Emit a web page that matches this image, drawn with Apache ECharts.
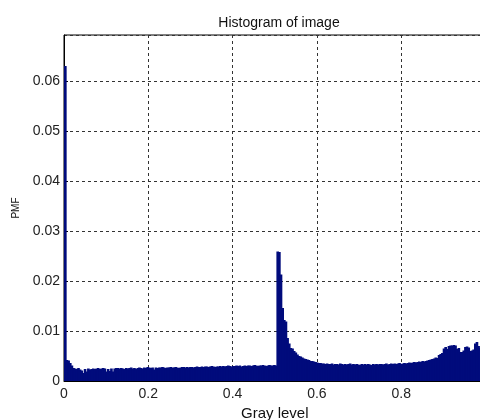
<!DOCTYPE html>
<html>
<head>
<meta charset="utf-8">
<script src="https://cdn.jsdelivr.net/npm/echarts@6/dist/echarts.min.js"></script>
<style>html,body{margin:0;padding:0;background:#fff;}#c{width:480px;height:420px;}</style>
</head>
<body>
<div id="c"></div>
<script>
// Histogram data: 256 bins over [0,1]
var binCount = 256;
var pmf = [
0.0630,0.0042,0.0041,0.0036,0.0031,0.0026,0.0025,0.0024,0.0026,0.0023,0.0021,0.0016,0.0024,0.0019,0.0025,0.0023,
0.0024,0.0025,0.0024,0.0025,0.0026,0.0024,0.0025,0.0026,0.0025,0.0019,0.0024,0.0020,0.0025,0.0019,0.0025,0.0026,
0.0026,0.0025,0.0026,0.0025,0.0024,0.0026,0.0025,0.0026,0.0027,0.0025,0.0026,0.0024,0.0026,0.0027,0.0026,0.0025,
0.0027,0.0026,0.0028,0.0027,0.0026,0.0027,0.0023,0.0027,0.0026,0.0027,0.0027,0.0028,0.0027,0.0026,0.0027,0.0027,
0.0028,0.0027,0.0027,0.0028,0.0027,0.0026,0.0027,0.0028,0.0028,0.0027,0.0028,0.0027,0.0028,0.0028,0.0027,0.0028,
0.0029,0.0028,0.0028,0.0029,0.0028,0.0029,0.0029,0.0028,0.0029,0.0030,0.0029,0.0028,0.0029,0.0029,0.0030,0.0029,
0.0030,0.0029,0.0030,0.0031,0.0030,0.0029,0.0030,0.0030,0.0031,0.0030,0.0031,0.0029,0.0030,0.0031,0.0030,0.0031,
0.0031,0.0030,0.0031,0.0032,0.0031,0.0030,0.0031,0.0031,0.0032,0.0031,0.0030,0.0031,0.0032,0.0031,0.0031,0.0032,
0.0031,0.0259,0.0258,0.0213,0.0146,0.0122,0.0119,0.0086,0.0075,0.0066,0.0065,0.0060,0.0057,0.0053,0.0050,0.0049,
0.0047,0.0045,0.0044,0.0043,0.0042,0.0040,0.0040,0.0039,0.0038,0.0037,0.0036,0.0036,0.0035,0.0035,0.0034,0.0035,
0.0034,0.0034,0.0035,0.0033,0.0034,0.0034,0.0033,0.0035,0.0034,0.0033,0.0034,0.0033,0.0034,0.0035,0.0033,0.0034,
0.0033,0.0034,0.0033,0.0032,0.0034,0.0033,0.0034,0.0033,0.0034,0.0033,0.0032,0.0034,0.0033,0.0034,0.0033,0.0034,
0.0034,0.0033,0.0034,0.0035,0.0033,0.0034,0.0035,0.0034,0.0035,0.0034,0.0035,0.0036,0.0034,0.0035,0.0036,0.0035,
0.0036,0.0037,0.0036,0.0037,0.0038,0.0037,0.0038,0.0039,0.0038,0.0040,0.0039,0.0040,0.0041,0.0042,0.0043,0.0044,
0.0045,0.0047,0.0046,0.0052,0.0054,0.0056,0.0065,0.0068,0.0064,0.0070,0.0071,0.0071,0.0072,0.0071,0.0064,0.0066,
0.0058,0.0058,0.0061,0.0068,0.0069,0.0067,0.0060,0.0061,0.0063,0.0075,0.0078,0.0070,0.0066,0.0072,0.0075,0.0080
];
var xTicks = [0, 0.2, 0.4, 0.6, 0.8, 1];
var yTicks = [0, 0.01, 0.02, 0.03, 0.04, 0.05, 0.06];
var titleText = 'Histogram of image';
var xName = 'Gray level';
var yName = 'PMF';

var data = pmf.map(function (v, i) {
  return [i / binCount, (i + 1) / binCount, v];
});

var chart = echarts.init(document.getElementById('c'), null, {renderer: 'canvas'});
var font = 'Liberation Sans, Arial, sans-serif';
chart.setOption({
  animation: false,
  backgroundColor: '#fff',
  title: {
    text: titleText, left: 274, top: 11, textAlign: 'center',
    textStyle: {fontFamily: font, fontSize: 14, fontWeight: 'normal', color: '#111'}
  },
  grid: {left: 64, top: 35, width: 421.5, height: 346, outerBoundsMode: 'none', containLabel: false,
    show: true, borderColor: '#000', borderWidth: 1, backgroundColor: 'transparent'},
  xAxis: {
    type: 'value', min: 0, max: 1, interval: 0.2,
    name: xName, nameLocation: 'middle', nameGap: 23,
    nameTextStyle: {fontFamily: font, fontSize: 15, color: '#111'},
    axisLine: {show: true, lineStyle: {color: '#000'}},
    axisTick: {show: true, inside: true, length: 4, lineStyle: {color: '#000'}},
    axisLabel: {fontFamily: font, fontSize: 14, color: '#222', margin: 6, showMaxLabel: false,
      formatter: function (v) { return xTicks.indexOf(+v.toFixed(2)) >= 0 ? String(+v.toFixed(2)) : ''; }},
    splitLine: {show: true, lineStyle: {color: '#333', type: [3, 3], width: 1}}
  },
  yAxis: {
    type: 'value', min: 0, max: 0.0692, interval: 0.01,
    name: yName, nameLocation: 'middle', nameGap: 43, nameRotate: 90,
    nameTextStyle: {fontFamily: font, fontSize: 10, color: '#111'},
    axisLine: {show: true, lineStyle: {color: '#000'}},
    axisTick: {show: true, inside: true, length: 4, lineStyle: {color: '#000'}},
    axisLabel: {fontFamily: font, fontSize: 14, color: '#222', margin: 4, showMaxLabel: false,
      formatter: function (v) { return yTicks.indexOf(+v.toFixed(2)) >= 0 ? String(+v.toFixed(2)) : ''; }},
    splitLine: {show: true, lineStyle: {color: '#333', type: [3, 3], width: 1}}
  },
  series: [{
    type: 'custom',
    data: data,
    encode: {x: [0, 1], y: 2},
    renderItem: function (params, api) {
      var p0 = api.coord([api.value(0), 0]);
      var p1 = api.coord([api.value(1), api.value(2)]);
      return {
        type: 'rect',
        shape: {x: p0[0], y: p1[1], width: p1[0] - p0[0] + 1, height: p0[1] - p1[1]},
        style: {fill: '#000b7c'}
      };
    },
    clip: true
  }]
});
</script>
</body>
</html>
